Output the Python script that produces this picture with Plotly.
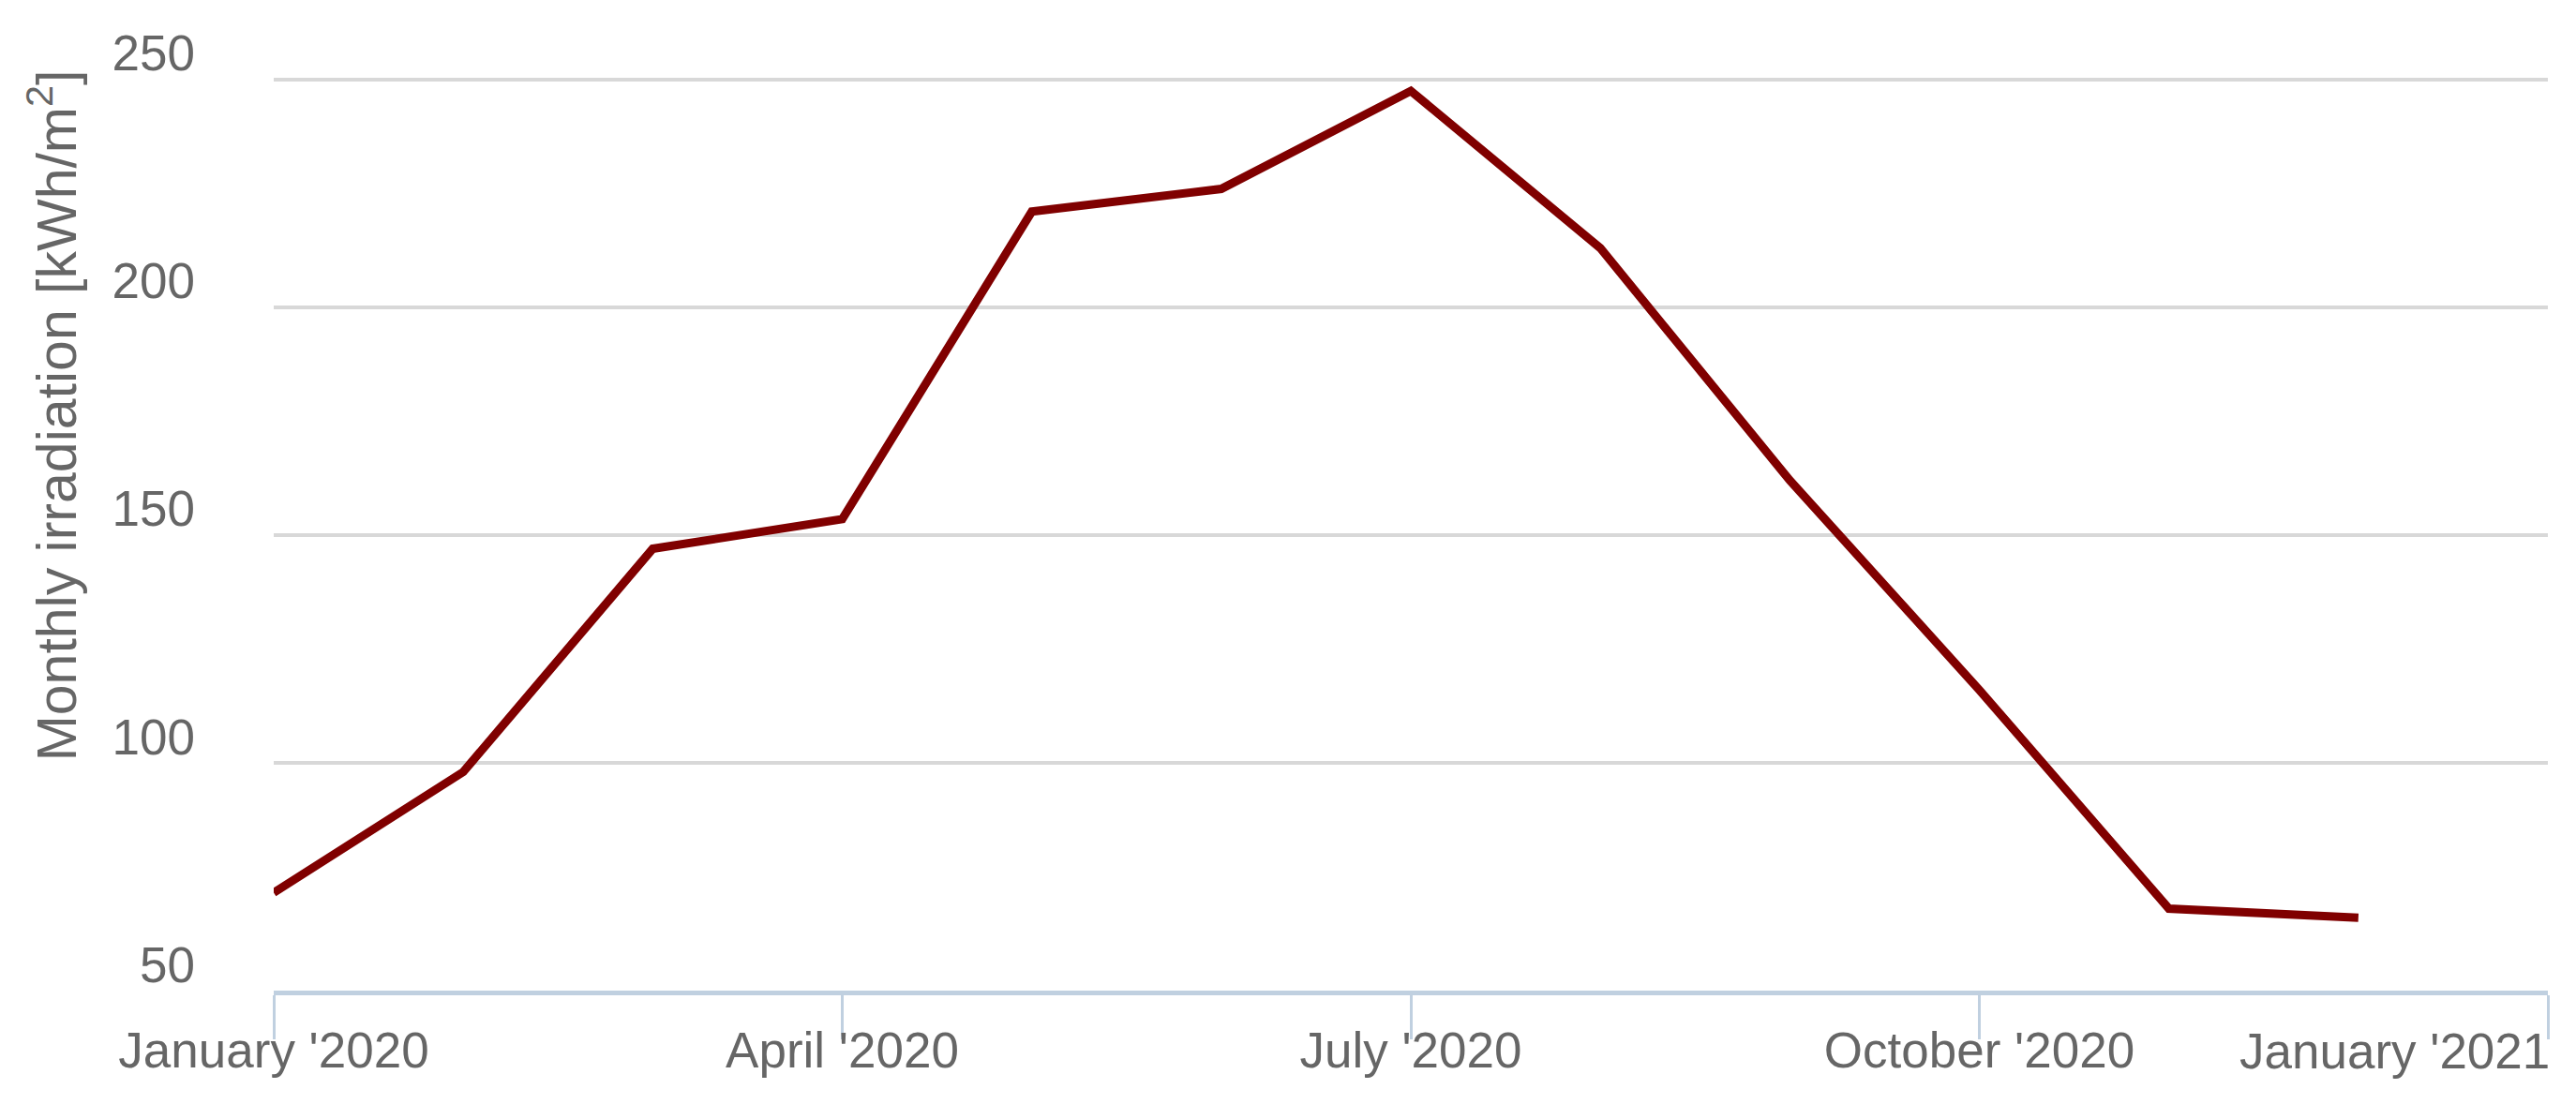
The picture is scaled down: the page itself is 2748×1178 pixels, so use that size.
"""Monthly irradiation line chart for 2020."""
import plotly.graph_objects as go

# months since January 2020 (0 = January 2020)
month_number = [0, 1, 2, 3, 4, 5, 6, 7, 8, 9, 10, 11]
irradiation = [71.5, 98, 147, 153.5, 221, 226, 247.5, 213, 162, 116, 68, 66]

x_tick_vals = [0, 3, 6, 9, 12]
x_tick_labels = ["January '2020", "April '2020", "July '2020", "October '2020",
                 "January '2021"]
y_tick_vals = [50, 100, 150, 200, 250]

LABEL_GREY = "#666666"

fig = go.Figure()
fig.add_scatter(
    x=month_number,
    y=irradiation,
    mode="lines",
    line=dict(color="#800000", width=9),
    hoverinfo="x+y",
)

# last label is right-justified to the plot edge (as in the source), so it
# is drawn as an annotation anchored to the last tick
fig.update_xaxes(
    range=[0, 12],
    tickmode="array",
    tickvals=x_tick_vals,
    ticktext=x_tick_labels[:-1] + [""],
    automargin=False,
    showgrid=False,
    zeroline=False,
    showline=True,
    linecolor="#c0d0e0",
    linewidth=5,
    ticks="outside",
    ticklen=47,
    tickwidth=3,
    tickcolor="#c0d0e0",
    ticklabelstandoff=-34,
    tickfont=dict(size=53, color=LABEL_GREY),
)
fig.add_annotation(
    text=x_tick_labels[-1],
    xref="x", yref="paper",
    x=x_tick_vals[-1], y=-0.066,
    xanchor="right", yanchor="middle",
    xshift=4,
    showarrow=False,
    font=dict(size=53, color=LABEL_GREY),
)

fig.update_yaxes(
    range=[50, 251],
    tickmode="array",
    tickvals=y_tick_vals,
    automargin=False,
    showgrid=True,
    gridcolor="#d8d8d8",
    gridwidth=3.5,
    zeroline=False,
    showline=False,
    ticks="",
    ticklabelshift=-28,
    ticklabelstandoff=83,
    tickfont=dict(size=53, color=LABEL_GREY),
)

fig.add_annotation(
    text="Monthly irradiation [kWh/m<sup>2</sup>]",
    textangle=-90,
    xref="paper", yref="paper",
    x=-0.0969, y=0.628,
    xanchor="center", yanchor="middle",
    showarrow=False,
    font=dict(size=59, color=LABEL_GREY),
)

fig.update_layout(
    width=2748,
    height=1178,
    margin=dict(l=284, r=38, t=72, b=129, autoexpand=False),
    plot_bgcolor="white",
    paper_bgcolor="white",
    showlegend=False,
    font=dict(family="Liberation Sans, Arial, sans-serif", color=LABEL_GREY),
)

fig.write_html("out.html")
